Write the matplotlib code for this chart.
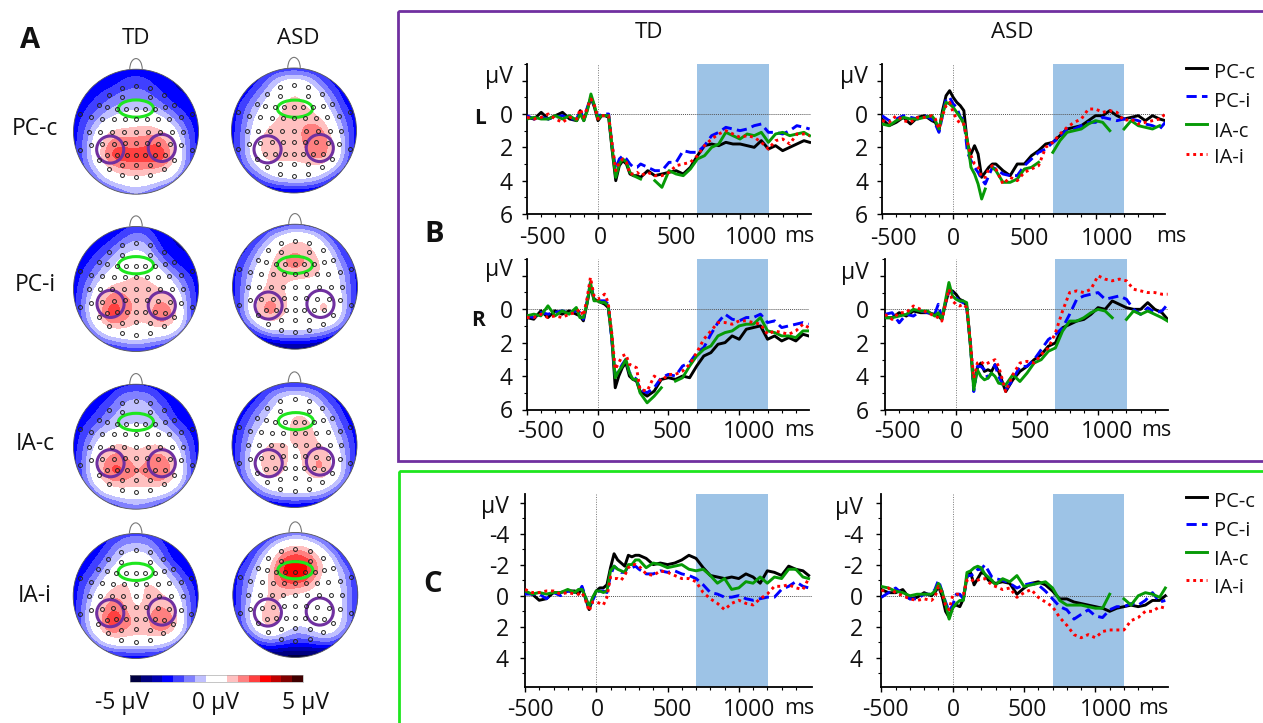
import numpy as np
import matplotlib
matplotlib.use('Agg')
import matplotlib.pyplot as plt
from matplotlib.colors import ListedColormap, BoundaryNorm
from matplotlib.patches import Circle, Ellipse, Arc, Rectangle
from matplotlib.cm import ScalarMappable

plt.rcParams['font.family'] = ['Open Sans', 'DejaVu Sans']
nan = float('nan')

# ---- ERP data, microvolts
t = [-500,-450,-400,-350,-300,-250,-200,-150,-125,-100,-75,-50,-25,0,25,50,75,100,125,150,175,200,225,250,275,300,
     350,400,450,500,550,600,650,700,750,800,850,900,950,1000,1050,1100,1150,1200,1250,1300,1350,1400,1450,1490]

td_l_pcc = [.2,.3,-.1,.3,.1,-.1,.3,.4,-.2,.4,-.3,-1,-.4,.4,.1,.1,.2,2.2,4,3.1,2.8,3,3.6,3.7,3.7,3.8,3.4,3.7,3.6,3.5,3.4,3.6,3.2,2.5,1.9,1.8,1.9,1.7,1.8,1.8,1.9,2,1.6,2.1,1.9,2.2,2,1.8,1.6,1.7]
td_l_pci = [.1,.3,.2,.3,.2,.1,.3,.3,-.2,.3,-.4,-1,-.5,.2,0,0,0,2,3.3,2.7,2.5,2.7,3,3.2,3.2,3,3.2,3.4,3.4,2.9,2.9,2.2,2.3,2.3,1.9,1.3,1.1,.8,.9,1,.9,.7,.6,1.1,1.1,1.2,1,.7,.8,.9]
td_l_iac = [.3,.2,.3,.3,.1,.3,.1,.4,0,.4,-.2,-1.2,-.5,.3,.1,.1,.1,2.1,3.8,3,2.7,2.9,3.5,3.7,3.8,3.9,nan,4,4.4,3.4,3.6,3.7,3.3,2.7,2.5,2,1.8,1.1,1.3,1.5,1.2,1.3,1.1,1.7,1.2,1.1,1.3,1.2,1.1,1.3]
td_l_iai = [.2,.3,.2,0,.3,.5,.2,.3,-.3,.2,-.4,-.9,-.5,.3,.1,.1,.1,1.8,3.4,2.9,2.7,2.9,3.6,3.6,3.5,3.7,3.5,3.7,3.7,3.5,3.1,3,2.9,2.5,1.9,1.5,1.2,1,1.2,1.4,1.3,1.4,1.7,2.1,1.6,1.5,1.8,1.2,1.2,1.3]

asd_l_pcc = [.3,.7,.5,.2,.6,.2,.1,.4,.5,1,-.2,-1.1,-1.4,-1,-.7,-.5,-.2,1.8,2.4,1.9,2.4,3.8,3.5,3.2,3,3,3.4,3.7,3,3,2.5,2.2,1.8,1.7,1.3,.9,.8,.7,.4,.1,.1,-.2,.1,.3,.2,.1,.4,.1,.3,.4]
asd_l_pci = [.1,.4,.3,.1,.2,.3,.1,.3,.6,1.1,.1,-.9,-1,-.6,-.4,.2,.3,2.3,2.8,3.2,3.5,3.9,4.2,3.7,3.2,3.3,3.6,3.7,3.7,3.1,2.7,2.3,2.1,1.7,1.4,.9,.9,.7,.5,.5,.2,.3,.4,.3,.3,.4,.6,.7,.9,.5]
asd_l_iac = [.6,.7,.4,.2,.3,.3,.2,.1,.4,.9,0,-.7,-.6,-.4,-.1,.2,.6,1.6,3.2,3.6,4.2,5.1,4.5,nan,3.2,3.4,4.1,4.1,3.9,3.3,3.2,2.9,nan,2.3,1.6,1.1,1,.9,.6,.4,.5,1,nan,.9,.4,.7,.8,.9,.7,nan]
asd_l_iai = [.4,.5,.1,.4,.5,.2,.2,.1,.3,.9,.1,-.5,-.7,-.1,.3,.6,.6,1.7,2.5,3,3.2,3.8,3.8,3.3,3.1,3.3,4.2,3.8,4,3.5,3.3,3.1,2,1.7,1.2,.8,.5,.3,-.3,-.3,-.1,-.2,-.1,.4,.3,.6,.5,.4,.3,0]

td_r_pcc = [.5,.6,.1,.5,.1,.3,.1,.3,.4,.7,-.3,-1.4,-.6,-.5,-.4,-.3,-.1,1.6,4.7,4,3.5,3.2,4,4.2,4.3,4.9,5.2,4.9,4.2,4.1,4.2,4,4.1,3.4,2.8,2.6,2.1,2,1.6,1.8,1.2,1.1,1,1.8,1.6,1.9,1.7,1.9,1.5,1.6]
td_r_pci = [.4,.5,.2,.3,.2,.1,.2,.1,.2,.6,-.4,-1.6,-.6,-.5,-.5,-.5,-.3,1.8,4,3.7,3.3,3,3.8,4,4.2,4.8,5,4.7,4.1,3.9,4,3.4,3.2,2.6,2.3,1.5,.8,.3,.6,.7,.5,.5,.3,.8,.7,1.1,1,.9,.8,.9]
td_r_iac = [.4,.3,.4,-.2,.4,.1,.3,-.1,.5,.5,-.3,-1.6,-.5,-.5,-.4,-.4,-.2,1.6,4.1,3.7,3.4,3,3.8,4.2,4.2,5,5.6,5.2,4.7,nan,4.3,4.1,3.4,2.8,2.4,2.2,1.6,1.4,1.3,1,.9,.9,.5,1.3,1.4,1.6,1.6,1.7,1.3,1.3]
td_r_iai = [.5,.5,.3,.5,.4,.5,.3,.2,0,.4,-.6,-1.9,-.8,-.6,-.7,-.9,-.4,1.4,3.6,3.2,2.8,2.7,3.3,3.4,3.5,4.8,4.9,4,4.3,3.9,3.9,3.7,3.3,2.6,1.8,1.3,.8,.8,.9,.7,.7,.8,.9,1.5,1.3,1.4,1.5,1.3,.9,1.1]

asd_r_pcc = [.5,.5,.2,.4,.1,.2,.2,.3,.4,.6,-.3,-1.1,-1.1,-.9,-.6,-.5,-.2,2,4.6,3.5,3.2,3.7,3.6,3.7,3.3,3.7,4.9,4.2,3.7,3.4,3,2.7,2.2,2,1.1,.9,.7,.6,.3,-.1,0,-.5,-.3,-.1,0,0,-.4,0,.2,.6]
asd_r_pci = [.3,.2,.8,.3,.4,.1,.2,.3,-.3,.5,-.4,-1.1,-1,-.7,-.5,-.4,-.2,1.9,4.9,3.4,3.4,3.6,4.1,3.8,3.3,4,4.8,4.2,3.4,3.4,3,2.4,1.8,1.5,1.1,.3,-.6,-.8,-.9,-1,-.6,-.7,-.8,-.6,0,.3,-.1,.2,.1,-.3]
asd_r_iac = [.5,.5,.4,.3,0,.1,.1,.4,.2,.6,-.5,-1.6,-.8,-.6,-.5,-.5,-.4,2,4.8,3.6,4,4.2,4.1,3.8,4,4.4,4.5,3.9,4.3,3.8,3.2,3,2.5,2.3,1.3,.7,.7,.5,.2,0,.1,.5,nan,.6,.1,.3,.1,.3,.5,.7]
asd_r_iai = [.3,.6,.2,.2,-.2,0,.2,.4,.5,.7,-.3,-1.2,-.5,-.3,-.2,-.3,-.1,1.8,4.1,3.2,3.1,3.3,3.2,3.1,3,3.4,4.9,3.9,3.2,3.1,3.2,2.7,2.3,1.4,.1,-1,-1.1,-1,-1.2,-2,-1.8,-1.7,-1.8,-1.7,-1.2,-1.1,-1,-1,-.9,-.9]

td_c_pcc = [-.2,-.1,.3,.2,-.2,-.2,-.3,-.3,-.1,-.5,.2,.9,.2,-.3,-.5,-.5,-.7,-1.8,-2.7,-2.3,-2.1,-1.9,-2.6,-2.5,-2.6,-2.6,-2.4,-2,-2.1,-2,-2.1,-2.3,-2.6,-2.4,-1.8,-1.3,-1.2,-1.1,-1.2,-1.1,-1.4,-1.2,-.8,-1.6,-1.5,-1.3,-1.9,-1.7,-1.6,-1.3]
td_c_pci = [-.1,-.1,-.1,.2,-.2,0,-.3,-.2,-.2,-.6,.1,.8,.3,-.2,-.3,-.3,-.2,-1.3,-1.9,-1.7,-1.5,-1.5,-1.9,-1.8,-1.9,-1.7,-1.4,-1.4,-1.6,-1.5,-1.6,-1.4,-1.3,-1.1,-.7,-.2,-.1,.1,.1,0,.2,.3,.2,.1,.1,-.4,-.6,-.9,-.6,-.5]
td_c_iac = [-.3,-.1,-.2,-.1,-.2,-.2,-.4,-.2,-.4,-.4,.1,.7,.1,-.3,-.3,-.2,-.3,-1.6,-1.9,-1.7,-1.6,-1.5,-2,-2,-2.3,-2.3,-1.8,-2.1,-2,-1.8,-1.9,-2,-1.7,-1.6,-1.7,-1.3,-.8,-1.1,-.4,-.5,-.9,-.8,-1.2,-.8,-1.2,-1.1,-1.7,-1.7,-1.2,-1.1]
td_c_iai = [-.4,-.2,-.2,-.3,-.3,-.1,-.2,-.1,-.1,-.2,.3,1,.4,.4,.5,.6,.1,-1.2,-1.1,-1.1,-1,-1.3,-1.8,-2,-2,-1.9,-1.4,-1.3,-1.6,-1.5,-1.3,-1.1,-1.1,-.9,-.2,.2,.5,.9,.5,.3,.5,.6,.2,-.1,-.6,-.6,-.7,-.5,-.4,-1.1]

asd_c_pcc = [-.4,-.2,-.2,-.4,.2,.1,-.2,0,-.2,-.6,0,1,1.4,.7,.6,.7,.2,-1.2,-1.5,-.7,-1.1,-1.5,-1.4,-1,-.9,-.8,-.9,-.8,-.1,-.5,-.8,-.9,-.7,-.3,.2,.2,.4,.5,.6,.7,.8,1,.8,.7,.6,.7,.6,.3,.3,0]
asd_c_pci = [.1,-.2,-.5,-.1,.2,.2,-.1,-.1,-.4,-1,-.3,.4,1,.6,-.1,-.1,.2,-1.3,-1.3,-1.4,-1.7,-1.7,-2,-1.6,-1.2,-1.1,-1,-.8,-.5,-.7,-.8,-.7,-.3,.2,.7,.9,1.5,1.2,.9,1.3,1.4,.9,.7,.7,.5,.6,.3,-.2,.4,.3]
asd_c_iac = [-.6,-.5,-.3,-.2,0,-.1,-.1,-.1,-.3,-.8,-.3,.5,1.5,.8,.5,.3,.3,-1.5,-1.6,-1.8,-1.9,-1.8,-1.4,-1.2,-1,-.7,-1.1,-.9,-1.3,-.6,-.7,-.8,-.9,-.5,.3,.6,.6,.6,.7,.8,.8,-.1,nan,.2,.6,0,-.2,-.1,.1,-.5]
asd_c_iai = [-.3,-.5,-.2,0,.2,.3,.2,.3,.1,-.6,-.2,.6,.9,0,-.1,-.1,-.1,-1,-1.1,-.9,-1,-1.1,-1.1,-.9,-.7,-.6,-.4,-.5,.1,-.2,-.4,.1,.4,.7,1.4,1.9,2.5,2.7,2.5,2.7,2.3,2.2,2.2,2.2,1.6,1.4,1,1,.7,.8]

conditions = ['PC-c', 'PC-i', 'IA-c', 'IA-i']
x_ticks = [-500, 0, 500, 1000]
window = [700, 1203]

# ---- scalp maps, microvolts on a coarse 11x11 grid, rows top to bottom
map_td_pcc = [[-3,-3,-3,-3,-3,-3,-3,-3.2,-3.2,-3.2,-3.2],
 [-3,-3,-3,-3,-2.4,-2.1,-2.4,-3,-3.2,-3.2,-3.2],
 [-3,-3,-2.6,-2.1,-1.7,-1.6,-1.8,-2.4,-3.1,-3.2,-3.2],
 [-3,-2.7,-2,-1.4,-1,-.9,-1.1,-1.6,-2.4,-3,-3],
 [-3,-2.2,-1.2,-.5,-.2,.1,.3,-.3,-1.2,-2.4,-3],
 [-3,-1.7,-.2,.8,.9,.9,1,.8,-.1,-1.7,-3],
 [-3,-1.4,.3,1.7,1.7,1.6,1.8,2,.7,-1.4,-3],
 [-3,-1.4,.5,2.4,2.4,2.3,2.4,2.8,1,-1.4,-3],
 [-3,-1.8,-.4,.9,1.4,1.4,1.4,1.2,.5,-1.6,-3],
 [-3,-3,-1.5,-.5,0,.2,0,-.5,-1.3,-3,-3],
 [-3,-3,-3,-2.6,-1.8,-1.4,-1.8,-2.6,-3,-3,-3]]
map_td_pci = [[-3,-3,-3,-3,-3,-2.2,-2.8,-3.1,-3.2,-3.2,-3.2],
 [-3,-3,-3,-2.8,-1.8,-1.2,-1.6,-3,-3.2,-3.2,-3.2],
 [-3,-3,-2.6,-1.6,-.7,-.4,-.7,-2.4,-3.1,-3.2,-3.2],
 [-3,-2.7,-1.7,-.8,-.2,.1,-.1,-1,-2.4,-3,-3],
 [-3,-2.1,-1,-.2,.4,.8,.6,-.1,-1,-2.2,-3],
 [-3,-1.6,-.1,1.2,1,.9,.9,.8,-.1,-1.5,-3],
 [-3,-1.2,.7,2,1.7,1,.9,1.3,.9,-1.2,-3],
 [-3,-1.2,1,2.8,1.8,1,.9,2.4,1.5,-1.1,-3],
 [-3,-1.8,-.1,1,.9,.4,.5,1,.5,-1.4,-3],
 [-3,-3,-1.8,-.9,-.5,-.1,-.5,-.9,-1.6,-3,-3],
 [-3.4,-3.4,-3.4,-3.3,-2.8,-2.6,-2.8,-3.3,-3.4,-3.4,-3.4]]
map_td_iac = [[-3,-3,-3,-3,-3,-2.8,-3,-3,-3,-3,-3],
 [-3,-3,-3,-2.6,-1.4,-1.2,-1.4,-2.6,-3,-3,-3],
 [-3,-3,-2.6,-1.6,-1,-.9,-1,-1.6,-2.8,-3.1,-3],
 [-3,-2.7,-2,-1.1,-.8,-.7,-.8,-1.1,-2.2,-3,-3],
 [-3,-2.1,-.9,-.4,-.3,-.3,-.3,-.4,-1,-2.2,-3],
 [-3,-1.6,-.1,.8,.9,.4,.8,.9,-.1,-1.6,-3],
 [-3,-1.3,.6,1.7,1.5,.8,1.3,1.8,.8,-1.3,-3],
 [-3,-1.3,.9,2.4,2.2,1.2,1.6,2.4,1.3,-1.2,-3],
 [-3,-1.7,.1,1.2,1,.9,1,1.2,.4,-1.4,-3],
 [-3.2,-3.2,-1.5,-.6,-.1,-.1,-.1,-.6,-1.5,-3.2,-3.2],
 [-3.3,-3.3,-3.3,-3.1,-2.2,-1.8,-2.2,-3.1,-3.3,-3.3,-3.3]]
map_td_iai = [[-3,-3,-3,-3,-2.4,-2.2,-2.4,-3,-3.1,-3,-3],
 [-3,-3,-3,-2,-1,-.9,-1,-2.2,-3.1,-3,-3],
 [-3,-3,-2.4,-1.2,-.3,-.1,-.3,-1.4,-3,-3,-3],
 [-3,-2.7,-1.6,-.4,.1,.5,.3,-.3,-1.6,-3,-3],
 [-3,-1.9,-.8,.3,.8,.3,.8,.3,-.6,-2,-3],
 [-3,-1.6,.1,1.2,1.2,.1,1,.9,.2,-1.4,-3],
 [-3,-1.2,.6,2,1.5,.4,1,1.4,.9,-1.2,-3],
 [-3,-1.1,.9,3,2,1,1.1,2.6,1.8,-1.1,-3],
 [-3,-1.6,.1,1.5,1,.9,.9,1.2,.5,-1.4,-3],
 [-3.1,-3.1,-1.6,-.7,-.3,-.5,-.3,-.7,-1.6,-3.1,-3.1],
 [-3.6,-3.6,-3.6,-3.5,-3.4,-3.3,-3.4,-3.5,-3.6,-3.6,-3.6]]
map_asd_pcc = [[-3,-3,-3,-3,-2.8,-2.6,-2.8,-3,-3,-3,-3],
 [-3,-3,-3,-1.6,-.4,-.1,-.4,-1.6,-3,-3,-3],
 [-3,-3,-1.8,-.6,.2,.7,.3,-.4,-1.8,-3,-3],
 [-3,-2.2,-.9,-.1,.5,1,.6,.1,-.9,-2.6,-3],
 [-3,-1.8,-.3,.2,.8,1,1,.7,-.3,-1.8,-3],
 [-3,-1.5,0,.9,1,1,1.5,1.9,.4,-1.3,-3],
 [-3,-1.3,.3,1.3,1,.9,1.4,2.2,1,-1.1,-3],
 [-3,-1.4,.3,1.3,.9,.9,1.1,2,1,-1.2,-3],
 [-3.2,-2,-.7,.2,.3,.3,.4,.5,-.3,-1.8,-3.2],
 [-3.5,-3.5,-2.3,-1.1,-.5,-.4,-.4,-1,-2.3,-3.5,-3.5],
 [-4.4,-4.4,-4.2,-3.9,-3.6,-3.5,-3.6,-3.9,-4.2,-4.4,-4.4]]
map_asd_pci = [[-3,-3,-3,-3,-2.8,-2.4,-2.8,-3,-3,-3,-3],
 [-3,-3,-2.8,-1.2,-.2,.5,.2,-.8,-2.6,-3,-3],
 [-3,-3,-1.3,-.1,.9,1.1,1,.2,-.9,-3,-3],
 [-3,-2,-.6,.5,1.3,1.8,1.2,.7,-.3,-2,-3],
 [-3,-1.5,-.2,.9,1,1,1,.7,.1,-1.2,-3],
 [-3,-1.3,.1,.9,.6,.2,.1,.1,0,-1,-3],
 [-3,-1.1,.8,1.3,.9,.2,.1,.6,.6,-.9,-3],
 [-3,-1.1,1,2,1,.1,.2,.9,.7,-.9,-3],
 [-3.2,-1.9,-.4,.7,.1,-.1,0,.2,-.1,-1.6,-3.2],
 [-3.8,-3.8,-2.6,-1.6,-1.2,-1,-1.2,-1.6,-2.6,-3.8,-3.8],
 [-5,-5,-5,-4.8,-4.5,-4.4,-4.5,-4.8,-5,-5,-5]]
map_asd_iac = [[-3,-3,-3,-3,-3,-2.8,-3,-3,-3,-3,-3],
 [-3,-3,-3,-1.6,-.5,-.2,-.5,-1.6,-3,-3,-3],
 [-3,-3,-1.8,-.7,-.1,.3,.1,-.5,-1.8,-3,-3],
 [-3,-2.3,-1,-.3,.1,1,.8,.1,-.9,-2.6,-3],
 [-3,-1.8,-.4,0,.2,1,1,.3,-.4,-1.9,-3],
 [-3,-1.4,0,.9,.7,.5,.9,.7,0,-1.3,-3],
 [-3,-1.2,.4,1.4,.9,.3,.9,1.5,.6,-1.1,-3],
 [-3,-1.2,.3,1.5,.8,.2,.9,1.7,.7,-1.1,-3],
 [-3.2,-1.9,-.5,.4,.1,-.1,.1,.4,-.2,-1.7,-3.2],
 [-3.5,-3.5,-2.1,-1.1,-.5,-.3,-.5,-.9,-2.1,-3.5,-3.5],
 [-4.4,-4.4,-4.2,-4,-3.8,-3.7,-3.8,-4,-4.2,-4.4,-4.4]]
map_asd_iai = [[-3,-3,-3,-3,-2.4,-2,-2.4,-3,-3,-3,-3],
 [-3,-3,-2.6,-1,.3,.9,.4,-.8,-2.5,-3,-3],
 [-3,-3,-1.2,.3,2,2.4,1.9,.6,-.6,-3,-3],
 [-3,-2,-.5,.8,3,3.8,3,.8,-.2,-1.4,-3],
 [-3,-1.5,-.2,.9,2,2.2,1.6,.2,-.1,-1.1,-3],
 [-3,-1.3,.1,.9,.5,.3,.1,.1,0,-.9,-3],
 [-3,-1.1,.5,.9,.3,.1,.1,.1,.1,-.9,-3],
 [-3,-1.1,.6,1.5,.5,-.2,-.2,.1,.1,-.9,-3],
 [-3.2,-1.9,-.3,.4,-.4,-1.2,-.8,-.1,-.2,-1.5,-3.2],
 [-4.2,-4.2,-2.6,-2.2,-2.6,-2.8,-2.8,-2.4,-2.4,-4.2,-4.2],
 [-5,-5,-5,-5,-5,-5,-5,-5,-5,-5,-5]]

# electrode positions, fraction of head radius
elec_x = [0,-.23,.23,-.44,.44,-.23,.23,-.6,-.46,.6,.46,-.16,0,.15,.31,-.31,-.72,-.54,-.36,-.18,0,.17,.35,.53,.72,-.75,-.57,-.38,-.2,0,.19,.38,.57,.75,-.72,-.54,-.36,-.18,0,.17,.35,.54,.72,-.89,.89,-.89,.89,-.6,-.46,-.31,-.15,0,.15,.31,.46,.6,-.44,-.23,0,.23,.44,-.23,0,.23]
elec_y = [.73,.7,.7,.59,.59,.55,.55,.43,.4,.43,.4,.37,.37,.37,.37,.37,.23,.21,.2,.2,.2,.2,.2,.21,.23,0,0,0,0,0,0,0,0,0,-.22,-.2,-.19,-.18,-.18,-.18,-.19,-.2,-.22,.29,.29,-.29,-.29,-.45,-.38,-.37,-.37,-.37,-.37,-.37,-.38,-.45,-.59,-.54,-.53,-.54,-.59,-.7,-.73,-.7]

# ---- colours of the map scale
map_colors = ['#000040','#000080','#0000b0','#0000ff','#4040ff','#8080ff','#c0c0ff','#ffffff',
              '#ffffff','#ffc0c0','#ff8080','#ff4040','#ff0000','#c00000','#800000','#400000']
map_levels = np.linspace(-5, 5, 17)
cmap = ListedColormap(map_colors)
norm = BoundaryNorm(map_levels, cmap.N)

purple = '#7030a0'
green = '#1ee61e'
W, H = 1263., 723.
fig = plt.figure(figsize=(W/100, H/100), dpi=100)

def px_axes(left, top, right, bottom, **kw):
    return fig.add_axes([left/W, 1-bottom/H, (right-left)/W, (bottom-top)/H], **kw)

# overlay in pixel coordinates for frames and loose text
ov = fig.add_axes([0, 0, 1, 1], zorder=5)
ov.set_xlim(0, W)
ov.set_ylim(H, 0)
ov.axis('off')
ov.patch.set_alpha(0)

ov.add_patch(Rectangle((398, 10.5), 900, 450, fill=False, ec=purple, lw=2, clip_on=True))
ov.add_patch(Rectangle((398.5, 471), 900, 300, fill=False, ec=green, lw=2, clip_on=True))

# ---- A: scalp maps
heads = [
 (136, 131.7, map_td_pcc, (-78,54), (78,49), (0,-70)),
 (294, 130.5, map_asd_pcc, (-80,57), (78,53), (3,-66)),
 (136, 289, map_td_pci, (-77,45), (78,50), (0,-72)),
 (295, 286.7, map_asd_pci, (-80,57), (77,52), (0,-66)),
 (136, 446.7, map_td_iac, (-77,50), (78,50), (0,-75)),
 (294.5, 445, map_asd_iac, (-78,55), (77,50), (4,-72)),
 (135.7, 596, map_td_iai, (-77,52), (79,47), (0,-73)),
 (295.3, 595, map_asd_iai, (-83,53), (74,50), (0,-75)),
]
R = 62.5
for cx, cy, grid, roi_l, roi_r, roi_f in heads:
    a = px_axes(cx-1.3*R, cy-1.3*R, cx+1.3*R, cy+1.3*R)
    a.axis('off')
    im = a.imshow(np.array(grid), cmap=cmap, norm=norm, extent=(-1.1, 1.1, -1.1, 1.1),
                  interpolation='bicubic', interpolation_stage='data', origin='upper')
    outline = Circle((0, 0), 1, fc='none', ec='#555555', lw=.6)
    a.add_patch(outline)
    im.set_clip_path(outline)
    a.add_patch(Arc((0, 1), .2, .34, theta1=0, theta2=180, ec='#777777', lw=.8))
    a.plot(elec_x, elec_y, 'o', ms=2.8, mfc='none', mec='#222222', mew=.7)
    for ox, oy in (roi_l, roi_r):
        a.add_patch(Circle((ox/189., -oy/189.), 41/189., fc='none', ec=purple, lw=2.2))
    a.add_patch(Ellipse((roi_f[0]/189., -roi_f[1]/189.), 106/189., 52/189., fc='none', ec=green, lw=2.2))
    a.set_xlim(-1.3, 1.3)
    a.set_ylim(-1.3, 1.3)

cax = px_axes(130, 675, 303, 681.7)
cb = fig.colorbar(ScalarMappable(norm=norm, cmap=cmap), cax=cax, orientation='horizontal', ticks=[], spacing='proportional')
cb.outline.set_linewidth(.4)
cb.outline.set_edgecolor('#999999')
cb.ax.minorticks_off()

txt = dict(ha='center', va='center', color='#111111')
ov.text(30, 40, 'A', fontsize=21, fontweight='bold', **txt)
ov.text(434, 234, 'B', fontsize=21, fontweight='bold', **txt)
ov.text(433, 584, 'C', fontsize=21, fontweight='bold', **txt)
ov.text(136, 39, 'TD', fontsize=16, **txt)
ov.text(298, 39, 'ASD', fontsize=16, **txt)
ov.text(649, 33, 'TD', fontsize=16, **txt)
ov.text(1012, 33, 'ASD', fontsize=16, **txt)
ov.text(480, 118, 'L', fontsize=15, fontweight='bold', **txt)
ov.text(478, 320, 'R', fontsize=15, fontweight='bold', **txt)
for lab, y in zip(conditions, [129, 285, 444, 596]):
    ov.text(35, y, lab, fontsize=16.5, **txt)
ov.text(122, 703, '-5 μV', fontsize=16.5, **txt)
ov.text(216, 703, '0 μV', fontsize=16.5, **txt)
ov.text(305, 703, '5 μV', fontsize=16.5, **txt)

# ---- B and C: waveforms
line_styles = [dict(color='black', ls='-'),
               dict(color='#0000ff', ls=(0, (3.5, 1.8))),
               dict(color='#079a07', ls='-'),
               dict(color='#ff0000', ls=(0, (1, 1.3)))]

panels = [
 dict(series=[td_l_pcc, td_l_pci, td_l_iac, td_l_iai], box=(527, 64, 811, 214), ylim=(6, -3), yt=[0,2,4,6],
      x0=597, xl=[542.6,600.8,675.8,750.8], ms=799, xly=238, yr=513, uv=77),
 dict(series=[asd_l_pcc, asd_l_pci, asd_l_iac, asd_l_iai], box=(882, 64, 1165, 214), ylim=(6, -3), yt=[0,2,4,6],
      x0=952.7, xl=[893,953.5,1029,1107], ms=1171, xly=239, yr=868, uv=77),
 dict(series=[td_r_pcc, td_r_pci, td_r_iac, td_r_iai], box=(526.7, 259, 809, 409.5), ylim=(6, -3), yt=[0,2,4,6],
      x0=596, xl=[540.7,598,672.5,749], ms=799, xly=432, yr=513, uv=270),
 dict(series=[asd_r_pcc, asd_r_pci, asd_r_iac, asd_r_iai], box=(885, 259, 1167.7, 410), ylim=(6, -3), yt=[0,2,4,6],
      x0=955, xl=[897.8,956,1030,1107], ms=1156, xly=432, yr=869, uv=273),
 dict(series=[td_c_pcc, td_c_pci, td_c_iac, td_c_iai], box=(525, 494, 811.7, 686.7), ylim=(5.87, -6.55), yt=[-4,-2,0,2,4],
      x0=596, xl=[530.8,597,672,749], ms=799, xly=710, yr=509, uv=507),
 dict(series=[asd_c_pcc, asd_c_pci, asd_c_iac, asd_c_iai], box=(881, 494, 1167.7, 687), ylim=(5.87, -6.55), yt=[-4,-2,0,2,4],
      x0=952.7, xl=[885.7,953,1027,1106], ms=1153, xly=710, yr=863, uv=508),
]

ms_per_px = 1/.1427
for p in panels:
    left, top, right, bottom = p['box']
    ax = px_axes(left, top, right, bottom)
    ax.patch.set_alpha(0)
    ax.set_xlim((left-p['x0'])*ms_per_px, (right-p['x0'])*ms_per_px)
    ax.set_ylim(*p['ylim'])
    ax.axvspan(window[0], window[1], color='#9dc3e6', lw=0, zorder=1)
    ax.axhline(0, color='#555555', lw=.7, ls=(0, (1, 1)), zorder=2)
    ax.axvline(0, color='#777777', lw=.7, ls=(0, (1, 1.5)), zorder=2)
    for vals, st in zip(p['series'], line_styles):
        ax.plot(t, vals, lw=2.1, zorder=3, **st)
    for side in ('top', 'right'):
        ax.spines[side].set_visible(False)
    for side in ('left', 'bottom'):
        ax.spines[side].set_linewidth(1.3)
    ax.set_xticks(x_ticks)
    ax.set_xticks(np.arange(-500, 1500, 100), minor=True)
    ax.set_yticks(np.arange(np.ceil(p['ylim'][1]/2)*2, p['ylim'][0]+.01, 2))
    ax.set_yticks(np.arange(np.ceil(p['ylim'][1]), p['ylim'][0]+.01, 1), minor=True)
    ax.tick_params(which='major', length=3.5, width=1, labelbottom=False, labelleft=False)
    ax.tick_params(which='minor', length=2, width=.8)
    for v, xp in zip(x_ticks, p['xl']):
        ov.text(xp, p['xly'], str(v), fontsize=16.5, **txt)
    ov.text(p['ms'], p['xly']-2, 'ms', fontsize=15.5, **txt)
    ppu = (bottom-top)/(p['ylim'][0]-p['ylim'][1])
    for v in p['yt']:
        yp = top + (v-p['ylim'][1])*ppu
        ov.text(p['yr'], yp+3, str(v), fontsize=16.5, ha='right', va='center', color='#111111')
    ov.text(p['yr'], p['uv'], 'μV', fontsize=16.5, ha='right', va='center', color='#111111')

# ---- legends
for line_ys, text_ys in (([68, 96, 124, 154], [73, 102, 132, 158]),
                         ([497, 524, 552, 580], [502, 531, 560, 588])):
    for lab, st, ly, ty in zip(conditions, line_styles, line_ys, text_ys):
        ov.plot([1186, 1207], [ly, ly], lw=2.1, **st)
        ov.text(1214, ty, lab, fontsize=14.5, ha='left', va='center', color='#111111')

fig.savefig('out.png', dpi=100)
